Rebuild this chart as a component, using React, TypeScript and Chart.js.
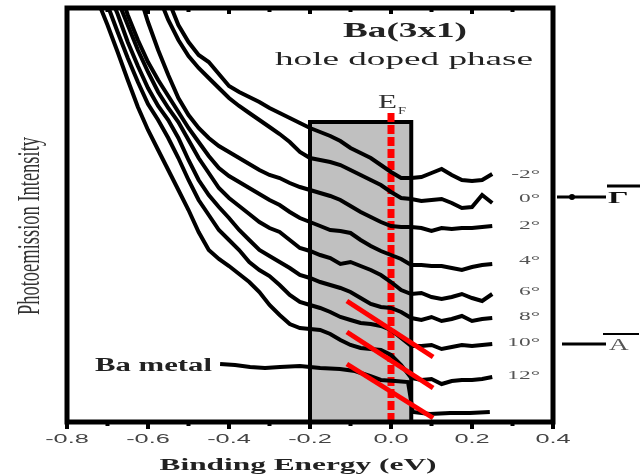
import React, { useEffect, useRef } from 'react';
import { Chart, registerables } from 'chart.js';

Chart.register(...registerables);

// ---- data (binding energy in eV, photoemission intensity in arbitrary units) ----
const ENERGY = [-0.725, -0.7, -0.675, -0.65, -0.625, -0.6, -0.575, -0.55, -0.525, -0.5, -0.475, -0.45, -0.425, -0.4, -0.375, -0.35, -0.325, -0.3, -0.275, -0.25, -0.225, -0.2, -0.175, -0.15, -0.125, -0.1, -0.075, -0.05, -0.025, 0, 0.025, 0.05, 0.075, 0.1, 0.125, 0.15, 0.175, 0.2, 0.225, 0.25];

const ANGLE_LABELS = ['-2°', '0°', '2°', '4°', '6°', '8°', '10°', '12°'];
const ANGLE_LABEL_LEVELS = [247, 223, 196, 161, 130, 105, 79, 46];

const C_M2 = [null, null, null, null, null, null, null, 422, 397, 380, 367, 360, 348, 336, 330, 325, 320, 314, 309, 304, 299, 294, 290, 286, 281, 274, 269, 264, 257, 250, 244, 244, 245, 249, 253, 247, 242, 241, 242, 248];
const C_0 = [null, null, null, null, null, null, 427, 402, 382, 366, 354, 344, 334, 324, 316, 309, 302, 295, 288, 280, 270, 264, 262, 260, 257, 252, 247, 242, 237, 230, 224, 223, 221, 222, 223, 219, 214, 215, 227, 219];
const C_2 = [null, null, null, null, 432, 400, 372, 347, 324, 307, 294, 284, 276, 270, 264, 258, 252, 247, 244, 239, 235, 232, 229, 226, 222, 216, 210, 205, 200, 196, 195, 195, 194, 191, 194, 193, 194, 194, 195, 196];
const C_4 = [null, null, 437, 407, 382, 360, 342, 326, 310, 294, 280, 266, 254, 246, 240, 234, 228, 222, 217, 210, 204, 200, 196, 192, 191, 189, 182, 176, 171, 167, 163, 157, 157, 156, 156, 154, 152, 155, 157, 158];
const C_6 = [null, null, 422, 397, 372, 350, 330, 314, 300, 282, 264, 249, 234, 224, 216, 208, 200, 194, 190, 182, 174, 171, 167, 164, 158, 160, 156, 152, 147, 140, 132, 128, 129, 125, 123, 125, 128, 124, 121, 128];
const C_8 = [null, 432, 408, 380, 356, 334, 316, 302, 284, 262, 242, 227, 215, 204, 192, 182, 172, 166, 160, 154, 147, 144, 140, 137, 134, 130, 124, 118, 115, 114, 110, 104, 102, 105, 101, 103, 106, 101, 103, 104];
const C_10 = [null, 417, 390, 364, 340, 318, 302, 284, 264, 242, 222, 207, 192, 182, 172, 160, 152, 146, 137, 127, 120, 117, 114, 110, 105, 102, 99, 98, 96, 92, 84, 76, 76, 77, 73, 75, 77, 76, 77, 78];
const C_12 = [422, 397, 370, 342, 315, 292, 272, 252, 232, 212, 190, 172, 163, 156, 148, 140, 130, 117, 107, 98, 94, 93, 92, 88, 82, 77, 74, 73, 72, 67, 57, 44, 42, 43, 38, 41, 42, 42, 43, 45];
const ANGLE_CURVES = [C_M2, C_0, C_2, C_4, C_6, C_8, C_10, C_12];

const BA_ENERGY = [-0.422, -0.385, -0.348, -0.311, -0.274, -0.225, -0.175, -0.126, -0.089, -0.052, -0.025, 0.01, 0.042, 0.054, 0.096, 0.146, 0.195, 0.244];
const BA_INTENSITY = [58, 57, 55, 54, 55, 56, 54, 53, 51, 46, 42, 41, 40, 10, 8, 9, 9, 10];

const FIT_ENERGY = [-0.109, 0.104];
const FIT_1 = [121, 65];
const FIT_2 = [90, 34];
const FIT_3 = [58, 4];

const BOX_ENERGY = [-0.2, 0.05];
const BOX_TOP = 300;
const EF_ENERGY = 0;
const EF_TOP = 310;

const X_MIN = -0.8;
const X_MAX = 0.4;
const Y_MIN = 0;
const Y_MAX = 414;
const TICK_VALUES = [-0.8, -0.6, -0.4, -0.2, 0, 0.2, 0.4];
const TICK_LABELS = ['-0.8', '-0.6', '-0.4', '-0.2', '0.0', '0.2', '0.4'];
const MINOR_TICKS = [-0.7, -0.5, -0.3, -0.1, 0.1, 0.3];
const LABEL_ENERGY = 0.368;

const SERIF = '"Liberation Serif", "DejaVu Serif", serif';
const SANS = '"Liberation Sans", Arial, sans-serif';

function stretchText(ctx: CanvasRenderingContext2D, text: string, x: number, y: number, font: string, sx: number | null, width: number | null, align: CanvasTextAlign, baseline: CanvasTextBaseline, color: string) {
  ctx.save();
  ctx.font = font;
  const w = ctx.measureText(text).width;
  const s = width ? width / w : (sx || 1);
  ctx.translate(x, y);
  ctx.scale(s, 1);
  ctx.textAlign = align;
  ctx.textBaseline = baseline;
  ctx.fillStyle = color;
  ctx.fillText(text, 0, 0);
  ctx.restore();
}

const decorPlugin = {
  id: 'decor',
  afterDatasetsDraw(chart: any) {
    const ctx: CanvasRenderingContext2D = chart.ctx;
    const a = chart.chartArea;
    const xs = chart.scales.x;
    const ys = chart.scales.y;
    ctx.save();
    // frame
    ctx.strokeStyle = '#000';
    ctx.lineWidth = 5;
    ctx.strokeRect(a.left, a.top, a.right - a.left, a.bottom - a.top);
    // ticks
    ctx.lineWidth = 4;
    TICK_VALUES.forEach((v) => {
      const px = xs.getPixelForValue(v);
      ctx.beginPath();
      ctx.moveTo(px, a.bottom);
      ctx.lineTo(px, a.bottom + 7);
      ctx.moveTo(px, a.top);
      ctx.lineTo(px, a.top + 6);
      ctx.stroke();
    });
    MINOR_TICKS.forEach((v) => {
      const px = xs.getPixelForValue(v);
      ctx.beginPath();
      ctx.moveTo(px, a.bottom);
      ctx.lineTo(px, a.bottom + 4);
      ctx.moveTo(px, a.top);
      ctx.lineTo(px, a.top + 4);
      ctx.stroke();
    });
    ctx.restore();

    // tick labels
    TICK_VALUES.forEach((v, i) => {
      stretchText(ctx, TICK_LABELS[i], xs.getPixelForValue(v), 443, '13px ' + SANS, 1.95, null, 'center', 'alphabetic', '#444');
    });
    // axis titles
    stretchText(ctx, 'Binding Energy (eV)', 298, 470, 'bold 17px ' + SERIF, null, 277, 'center', 'alphabetic', '#222');
    ctx.save();
    ctx.font = '17px ' + SERIF;
    const yw = ctx.measureText('Photoemission Intensity').width;
    ctx.translate(31, 226);
    ctx.rotate(-Math.PI / 2);
    ctx.scale(178 / yw, 1.9);
    ctx.textAlign = 'center';
    ctx.textBaseline = 'middle';
    ctx.fillStyle = '#333';
    ctx.fillText('Photoemission Intensity', 0, 0);
    ctx.restore();

    // titles
    stretchText(ctx, 'Ba(3x1)', 405, 37, 'bold 21px ' + SERIF, null, 124, 'center', 'alphabetic', '#222');
    stretchText(ctx, 'hole doped phase', 404, 65, '19px ' + SERIF, null, 258, 'center', 'alphabetic', '#222');
    // E_F
    stretchText(ctx, 'E', 378, 108, '19px ' + SERIF, null, 19, 'left', 'alphabetic', '#333');
    stretchText(ctx, 'F', 398, 114, '10px ' + SERIF, null, 8, 'left', 'alphabetic', '#333');

    // angle labels
    ANGLE_LABELS.forEach((t, i) => {
      stretchText(ctx, t, xs.getPixelForValue(LABEL_ENERGY), ys.getPixelForValue(ANGLE_LABEL_LEVELS[i]), '13px ' + SERIF, 1.8, null, 'right', 'middle', '#555');
    });
    // Ba metal
    stretchText(ctx, 'Ba metal', 95, 371, 'bold 18px ' + SERIF, null, 117, 'left', 'alphabetic', '#222');

    // Gamma-bar and A-bar markers
    ctx.save();
    ctx.strokeStyle = '#000';
    ctx.fillStyle = '#000';
    ctx.lineWidth = 3;
    ctx.beginPath();
    ctx.moveTo(557, 197);
    ctx.lineTo(606, 197);
    ctx.stroke();
    ctx.beginPath();
    ctx.arc(572, 197, 3, 0, Math.PI * 2);
    ctx.fill();
    ctx.beginPath();
    ctx.moveTo(562, 344);
    ctx.lineTo(606, 344);
    ctx.stroke();
    ctx.lineWidth = 3;
    ctx.beginPath();
    ctx.moveTo(607, 186);
    ctx.lineTo(640, 186);
    ctx.stroke();
    ctx.lineWidth = 2;
    ctx.beginPath();
    ctx.moveTo(603, 334);
    ctx.lineTo(639, 334);
    ctx.stroke();
    ctx.restore();
    stretchText(ctx, 'Γ', 608, 203, 'bold 17px ' + SERIF, 1.9, null, 'left', 'alphabetic', '#111');
    stretchText(ctx, 'A', 609, 350, '17px ' + SERIF, 1.6, null, 'left', 'alphabetic', '#555');
  },
};

export default function App() {
  const ref = useRef<HTMLCanvasElement | null>(null);
  useEffect(() => {
    if (!ref.current) return;
    const curveSets = ANGLE_CURVES.map((arr, i) => ({
      label: ANGLE_LABELS[i],
      data: ENERGY.map((e, j) => ({ x: e, y: arr[j] })),
      borderColor: '#000',
      borderWidth: 4,
      pointRadius: 0,
      fill: false,
      order: 2,
    }));
    const chart = new Chart(ref.current, {
      type: 'line',
      data: {
        datasets: [
          {
            label: 'box',
            data: [
              { x: BOX_ENERGY[0], y: 0 },
              { x: BOX_ENERGY[0], y: BOX_TOP },
              { x: BOX_ENERGY[1], y: BOX_TOP },
              { x: BOX_ENERGY[1], y: 0 },
            ],
            borderColor: '#000',
            borderWidth: 4,
            backgroundColor: '#c0c0c0',
            fill: 'origin',
            pointRadius: 0,
            order: 5,
          },
          {
            label: 'EF',
            data: [
              { x: EF_ENERGY, y: 0 },
              { x: EF_ENERGY, y: EF_TOP },
            ],
            borderColor: '#ff0000',
            borderWidth: 7,
            borderDash: [9, 3],
            pointRadius: 0,
            fill: false,
            order: 4,
          },
          ...curveSets,
          {
            label: 'Ba metal',
            data: BA_ENERGY.map((e, j) => ({ x: e, y: BA_INTENSITY[j] })),
            borderColor: '#000',
            borderWidth: 4,
            pointRadius: 0,
            fill: false,
            order: 2,
          },
          ...[FIT_1, FIT_2, FIT_3].map((f, k) => ({
            label: 'fit' + k,
            data: FIT_ENERGY.map((e, j) => ({ x: e, y: f[j] })),
            borderColor: '#ff0000',
            borderWidth: 5,
            pointRadius: 0,
            fill: false,
            order: 0,
          })),
        ] as any,
      },
      options: {
        animation: false,
        responsive: false,
        devicePixelRatio: 1,
        layout: { padding: { left: 67, top: 8, right: 87, bottom: 53 } },
        scales: {
          x: { type: 'linear', min: X_MIN, max: X_MAX, display: false },
          y: { type: 'linear', min: Y_MIN, max: Y_MAX, display: false },
        },
        plugins: { legend: { display: false }, tooltip: { enabled: false } },
        elements: { line: { tension: 0 }, point: { radius: 0 } },
      } as any,
      plugins: [decorPlugin],
    });
    return () => chart.destroy();
  }, []);
  return (
    <div style={{ position: 'absolute', left: 0, top: 0, width: 640, height: 475, background: '#fff' }}>
      <canvas ref={ref} width={640} height={475} style={{ display: 'block' }} />
    </div>
  );
}
